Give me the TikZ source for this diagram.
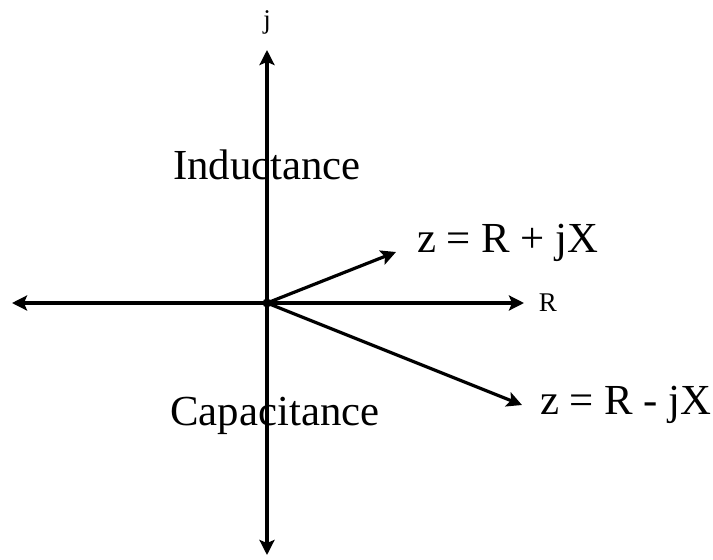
\documentclass[tikz,border=0pt]{standalone}
\usepackage{fontspec}
\setmainfont{Liberation Serif}
\usetikzlibrary{arrows.meta}
\begin{document}
\begin{tikzpicture}[x=1pt,y=-1pt,
  axis/.style={line width=3.2pt,-{Stealth[length=15pt,width=15pt,inset=3pt]}},
  big/.style={font=\fontsize{42.8}{46}\selectfont,inner sep=0pt},
  small/.style={font=\fontsize{27}{30}\selectfont,inner sep=0pt}]
\useasboundingbox (0,0) rectangle (713,560);
\coordinate (o) at (267,303);
\coordinate (top) at (267,50);
\coordinate (bot) at (267,555);
\coordinate (left) at (12,303);
\coordinate (right) at (524,303);
\coordinate (zp) at (396,252);
\coordinate (zm) at (522,405);
\fill (o) circle (4.5pt);
\draw[axis] (o) -- (top);
\draw[axis] (o) -- (bot);
\draw[axis] (o) -- (left);
\draw[axis] (o) -- (right);
\draw[axis] (o) -- (zp);
\draw[axis] (o) -- (zm);
\node[small] (j) at (267,22) {j};
\node[small] (R) at (548,303) {R};
\node[big] (ind) at (267,165) {Inductance};
\node[big] (cap) at (275,416) {Capacitance};
\node[big,anchor=west] (zpl) at (417,243) {z = R + jX};
\node[big,anchor=west] (zml) at (540,405) {z = R - jX};
\end{tikzpicture}
\end{document}
